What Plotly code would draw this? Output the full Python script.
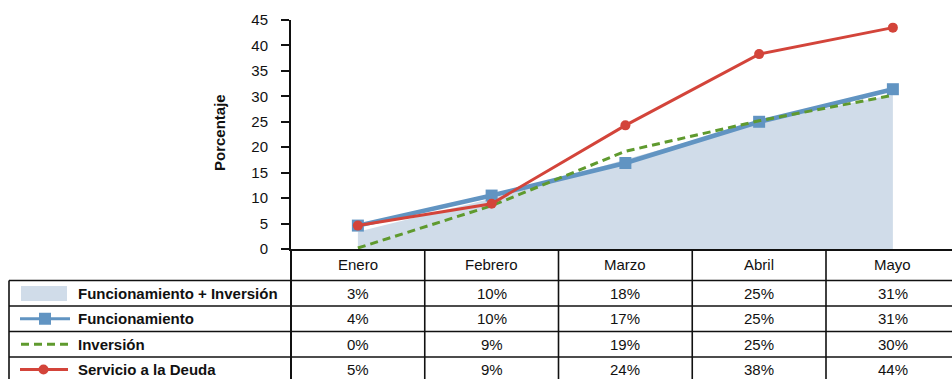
import plotly.graph_objects as go

# ---------------- data ----------------
months = ["Enero", "Febrero", "Marzo", "Abril", "Mayo"]
func_inv = [3.4, 9.9, 17.6, 25.0, 30.3]          # Funcionamiento + Inversión (area)
funcionamiento = [4.6, 10.5, 16.9, 25.0, 31.4]
inversion = [0.2, 8.5, 19.2, 25.2, 30.2]
servicio = [4.6, 8.9, 24.3, 38.3, 43.5]

series_names = ["Funcionamiento + Inversión", "Funcionamiento", "Inversión", "Servicio a la Deuda"]
table_func_inv = ["3%", "10%", "18%", "25%", "31%"]
table_funcionamiento = ["4%", "10%", "17%", "25%", "31%"]
table_inversion = ["0%", "9%", "19%", "25%", "30%"]
table_servicio = ["5%", "9%", "24%", "38%", "44%"]

y_ticks = [0, 5, 10, 15, 20, 25, 30, 35, 40, 45]

# ---------------- styles ----------------
AREA = "#D0DCE9"
BLUE = "#6194C2"
GREEN = "#5F9A2E"
RED = "#D3443A"
W, H = 952, 379
L, T, B = 291, 20, 130
PW, PH = W - L, H - T - B
COLW = 133.75
FONT = "Liberation Sans, Arial, sans-serif"
TXT = "#111111"


def px(x):
    return (x - L) / PW


def py(y):
    return (H - B - y) / PH


fig = go.Figure()
fig.add_trace(go.Scatter(x=months, y=func_inv, mode="lines", fill="tozeroy",
                         fillcolor=AREA, line=dict(width=0, color=AREA),
                         name=series_names[0], hoverinfo="skip"))
fig.add_trace(go.Scatter(x=months, y=funcionamiento, mode="lines+markers",
                         line=dict(color=BLUE, width=4.5),
                         marker=dict(symbol="square", size=12, color=BLUE),
                         name=series_names[1]))
fig.add_trace(go.Scatter(x=months, y=inversion, mode="lines",
                         line=dict(color=GREEN, width=3, dash="8px,5px"),
                         name=series_names[2]))
fig.add_trace(go.Scatter(x=months, y=servicio, mode="lines+markers",
                         line=dict(color=RED, width=3),
                         marker=dict(symbol="circle", size=10, color=RED),
                         name=series_names[3]))

shapes = []
annotations = []
LC = "#111111"
# table grid
row_lines = [280.5, 306, 331.5, 357]
for ry in row_lines:
    shapes.append(dict(type="line", xref="paper", yref="paper", x0=px(9), x1=1.0,
                       y0=py(ry), y1=py(ry), line=dict(color=LC, width=1.6)))
shapes.append(dict(type="line", xref="paper", yref="paper", x0=px(9), x1=px(9),
                   y0=py(280.5), y1=py(385), line=dict(color=LC, width=1.6)))
for i in range(len(months)):
    shapes.append(dict(type="line", xref="x", yref="paper", x0=i + 0.5, x1=i + 0.5,
                       y0=0, y1=py(385), line=dict(color=LC, width=1.6)))
shapes.append(dict(type="line", xref="paper", yref="paper", x0=0, x1=0,
                   y0=0, y1=py(385), line=dict(color=LC, width=2)))

# header + cells
header_y = (H - B + 280.5) / 2
row_centers = [(280.5 + 306) / 2, (306 + 331.5) / 2, (331.5 + 357) / 2, (357 + 382) / 2]
for i, m in enumerate(months):
    annotations.append(dict(x=m, y=py(header_y), xref="x", yref="paper", text=m,
                            xanchor="center", yanchor="middle", showarrow=False,
                            font=dict(family=FONT, size=15, color=TXT)))
for r, vals in enumerate([table_func_inv, table_funcionamiento, table_inversion, table_servicio]):
    for i, v in enumerate(vals):
        annotations.append(dict(x=months[i], y=py(row_centers[r]), xref="x", yref="paper",
                                text=v, xanchor="center", yanchor="middle", showarrow=False,
                                font=dict(family=FONT, size=15, color=TXT)))
    annotations.append(dict(x=px(76), y=py(row_centers[r]), xref="paper", yref="paper",
                            xanchor="left", yanchor="middle",
                            text="<b>" + series_names[r] + "</b>",
                            showarrow=False, font=dict(family=FONT, size=15, color=TXT)))

# legend symbols
shapes.append(dict(type="rect", xref="paper", yref="paper", x0=px(21), x1=px(67),
                   y0=py(286), y1=py(301), fillcolor=AREA, line=dict(width=0)))
shapes.append(dict(type="line", xref="paper", yref="paper", x0=px(20), x1=px(70),
                   y0=py(row_centers[1]), y1=py(row_centers[1]), line=dict(color=BLUE, width=3)))
shapes.append(dict(type="rect", xref="paper", yref="paper", x0=px(39), x1=px(51),
                   y0=py(row_centers[1] - 6), y1=py(row_centers[1] + 6),
                   fillcolor=BLUE, line=dict(width=0)))
shapes.append(dict(type="line", xref="paper", yref="paper", x0=px(21), x1=px(68),
                   y0=py(row_centers[2]), y1=py(row_centers[2]),
                   line=dict(color=GREEN, width=3, dash="8px,5px")))
shapes.append(dict(type="line", xref="paper", yref="paper", x0=px(20), x1=px(68),
                   y0=py(row_centers[3]), y1=py(row_centers[3]), line=dict(color=RED, width=3)))
shapes.append(dict(type="circle", xref="paper", yref="paper", x0=px(38.5), x1=px(48.5),
                   y0=py(row_centers[3] - 5), y1=py(row_centers[3] + 5),
                   fillcolor=RED, line=dict(width=0)))

# y-axis title
annotations.append(dict(x=px(219), y=py(133), xref="paper", yref="paper",
                        xanchor="center", yanchor="middle",
                        text="<b>Porcentaje</b>", textangle=-90, showarrow=False,
                        font=dict(family=FONT, size=15, color=TXT)))

fig.update_layout(
    width=W, height=H, margin=dict(l=L, r=0, t=T, b=B),
    paper_bgcolor="white", plot_bgcolor="white", showlegend=False,
    hovermode=False,
    shapes=shapes, annotations=annotations,
    xaxis=dict(type="category", range=[-0.5, -0.5 + PW / COLW], showgrid=False,
               zeroline=False, showline=True, linecolor=LC, linewidth=2,
               showticklabels=False, ticks=""),
    yaxis=dict(range=[0, 45], tickvals=y_ticks, showgrid=False, zeroline=False,
               showline=True, linecolor=LC, linewidth=2, ticks="outside", ticklen=8,
               tickwidth=1.5, tickcolor=LC, ticklabelstandoff=10,
               tickfont=dict(family=FONT, size=15, color=TXT)),
)

fig.write_html("out.html", config={"displayModeBar": False},
               post_script="document.body.style.margin='0';")
